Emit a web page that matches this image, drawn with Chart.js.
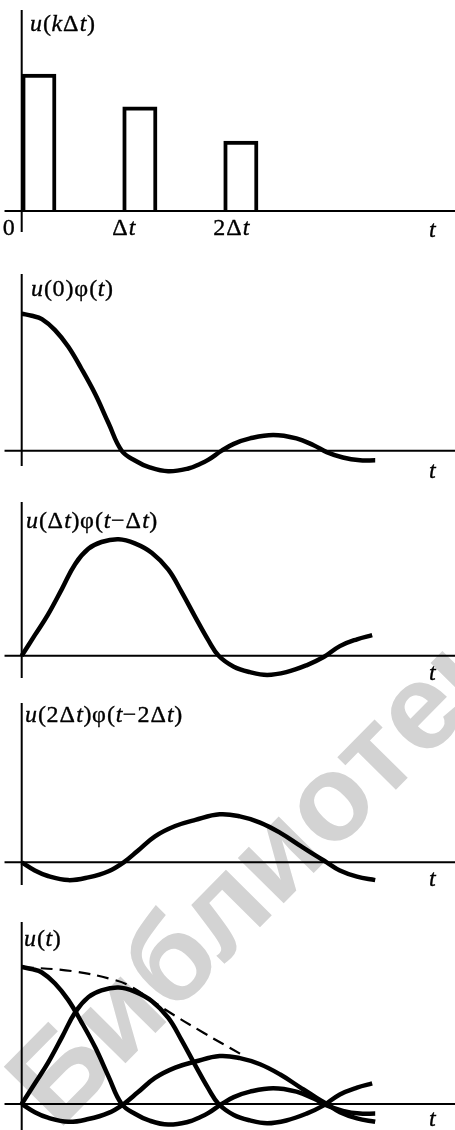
<!DOCTYPE html>
<html>
<head>
<meta charset="utf-8">
<script src="https://cdn.jsdelivr.net/npm/chart.js@4.4.1/dist/chart.umd.min.js"></script>
<style>
  html, body { margin: 0; padding: 0; background: #fff; }
  body { width: 455px; height: 1130px; position: relative; overflow: hidden; }
  .panel { position: absolute; left: 0; width: 455px; z-index: 1; }
  #stamp { position: absolute; left: 0; top: 0; z-index: 0; }
</style>
</head>
<body>
<canvas id="stamp" width="455" height="1130"></canvas>
<div class="panel" style="top:0;height:250px"><canvas id="p1"></canvas></div>
<div class="panel" style="top:250px;height:230px"><canvas id="p2"></canvas></div>
<div class="panel" style="top:480px;height:210px"><canvas id="p3"></canvas></div>
<div class="panel" style="top:690px;height:210px"><canvas id="p4"></canvas></div>
<div class="panel" style="top:900px;height:230px"><canvas id="p5"></canvas></div>
<script>
// ---- входной сигнал: отсчёты u(kΔt) ----
const sampleK = [0, 1, 2];
const sampleU = [1.0, 0.76, 0.51];
const tickText = ["0", "Δt", "2Δt"];

// ---- u(0)φ(t) ----
const resp0T = [0, 0.1, 0.2, 0.33, 0.46, 0.59, 0.73, 0.86, 0.99, 1.13, 1.26, 1.45, 1.65,
  1.77, 1.85, 1.98, 2.1, 2.26, 2.49, 2.72, 2.89, 3.02, 3.18, 3.35, 3.5];
const resp0V = [1.0, 0.985, 0.96, 0.88, 0.76, 0.6, 0.41, 0.2, 0, -0.075, -0.12, -0.15, -0.13,
  -0.095, -0.065, 0, 0.05, 0.09, 0.115, 0.09, 0.04, -0.01, -0.05, -0.07, -0.07];

// ---- u(Δt)φ(t−Δt) ----
const resp1T = [0, 0.13, 0.26, 0.4, 0.53, 0.66, 0.79, 0.96, 1.12, 1.29, 1.45, 1.58, 1.72,
  1.85, 1.95, 2.1, 2.26, 2.43, 2.62, 2.82, 2.99, 3.15, 3.32, 3.47];
const resp1V = [0, 0.15, 0.3, 0.49, 0.67, 0.78, 0.83, 0.85, 0.82, 0.75, 0.63, 0.47, 0.28,
  0.11, 0, -0.08, -0.12, -0.14, -0.12, -0.07, -0.01, 0.07, 0.12, 0.15];

// ---- u(2Δt)φ(t−2Δt) ----
const resp2T = [0, 0.13, 0.26, 0.46, 0.66, 0.86, 1.01, 1.15, 1.32, 1.52, 1.72, 1.96, 2.16,
  2.36, 2.56, 2.76, 2.92, 3.02, 3.15, 3.32, 3.5];
const resp2V = [0, -0.06, -0.1, -0.13, -0.11, -0.065, 0, 0.085, 0.19, 0.265, 0.31, 0.35, 0.335,
  0.29, 0.215, 0.12, 0.045, 0, -0.06, -0.105, -0.13];

// ---- огибающая (штриховая) ----
const envT = [0, 0.5, 0.92, 1.1, 1.42, 1.8, 2.18];
const envV = [1.0, 0.97, 0.905, 0.85, 0.69, 0.52, 0.36];

// масштаб: пикселей на Δt и на единицу амплитуды
const PX_PER_DT = 101;
const PX_PER_UNIT = 137;
const Y_AXIS_X = 21.7;
const PULSE_DT = 0.34;
const X_AXIS_FROM = -0.17;
const ITALIC = "ukt";
const SERIF = '"Liberation Serif", "DejaVu Serif", serif';
const FONT_SIZE = 24;
const SPREAD = 1.08;

function xy(ts, vs) {
  return ts.map((t, i) => ({ x: t, y: vs[i] }));
}

function curve(ts, vs, extra) {
  return Object.assign({
    type: "line",
    data: xy(ts, vs),
    borderColor: "#000",
    borderWidth: 4.5,
    pointRadius: 0,
    fill: false,
    tension: 0.4,
  }, extra || {});
}

function setFont(ctx, ch) {
  ctx.font = (ITALIC.includes(ch) ? "italic " : "") + FONT_SIZE + "px " + SERIF;
}

// формула: u, k, t курсивом, остальное прямым
function mathText(ctx, str, x, y) {
  let cx = x;
  ctx.lineWidth = 0.35;
  for (const ch of str) {
    setFont(ctx, ch);
    ctx.fillText(ch, cx, y);
    ctx.strokeText(ch, cx, y);
    cx += ctx.measureText(ch).width * SPREAD;
  }
  return cx - x;
}

function mathWidth(ctx, str) {
  let w = 0;
  for (const ch of str) {
    setFont(ctx, ch);
    w += ctx.measureText(ch).width * SPREAD;
  }
  return w;
}

// оси, подписи осей и отметки Δt
const decor = {
  id: "decor",
  afterDatasetsDraw(chart, args, o) {
    const { ctx } = chart;
    const xs = chart.scales.x, ys = chart.scales.y;
    const x0 = xs.getPixelForValue(0), y0 = ys.getPixelForValue(0);
    ctx.save();
    ctx.strokeStyle = "#000";
    ctx.lineWidth = 2;
    ctx.beginPath();
    ctx.moveTo(x0, o.axisTop);
    ctx.lineTo(x0, o.axisBottom);
    ctx.moveTo(xs.getPixelForValue(X_AXIS_FROM), y0);
    ctx.lineTo(chart.width, y0);
    ctx.stroke();

    ctx.fillStyle = "#000";
    ctx.textBaseline = "alphabetic";
    ctx.textAlign = "left";
    mathText(ctx, o.yLabel, o.yLabelX, o.yLabelY);
    mathText(ctx, "t", 429, o.tLabelY);

    if (o.ticks) {
      sampleK.forEach((k, i) => {
        const px = xs.getPixelForValue(k);
        const str = tickText[i];
        const lx = k === 0 ? px - 6 - mathWidth(ctx, str) : px - 10.5;
        mathText(ctx, str, lx, o.tLabelY - 2);
      });
    }
    ctx.restore();
  },
};

function makeChart(id, type, datasets, p) {
  return new Chart(document.getElementById(id), {
    type,
    data: { datasets },
    options: {
      responsive: true,
      maintainAspectRatio: false,
      animation: false,
      events: [],
      layout: { padding: 0 },
      plugins: {
        legend: { display: false },
        tooltip: { enabled: false },
        decor: p,
      },
      scales: {
        x: {
          type: "linear",
          display: false,
          offset: false,
          min: -Y_AXIS_X / PX_PER_DT,
          max: (455 - Y_AXIS_X) / PX_PER_DT,
        },
        y: {
          type: "linear",
          display: false,
          min: -(p.height - p.zero) / PX_PER_UNIT,
          max: p.zero / PX_PER_UNIT,
        },
      },
    },
    plugins: [decor],
  });
}

// библиотечный штамп: серая надпись по диагонали за графиками
function drawStamp() {
  const ctx = document.getElementById("stamp").getContext("2d");
  const text = "Библиотека";
  const sans = '"Liberation Sans", "DejaVu Sans", sans-serif';
  const from = { x: 60, y: 1072 };   // центр «Б»
  const to = { x: 418, y: 710 };     // центр «е»
  ctx.font = "bold 100px " + sans;
  const wB = ctx.measureText("Б").width;
  const wE = ctx.measureText("е").width;
  const wPre = ctx.measureText("Библиоте").width;
  const span = wPre - wB / 2 - wE / 2;
  const dist = Math.hypot(to.x - from.x, to.y - from.y);
  const size = 100 * dist / span;
  const ang = Math.atan2(to.y - from.y, to.x - from.x);
  ctx.font = "bold " + size + "px " + sans;
  ctx.fillStyle = "#d3d3d3";
  ctx.translate(from.x, from.y);
  ctx.rotate(ang);
  ctx.fillText(text, -wB * size / 200, 0.33 * size);
}

drawStamp();

// 1) прямоугольные импульсы u(kΔt)
makeChart("p1", "bar", [{
  type: "bar",
  data: sampleK.map((k, i) => ({ x: k + PULSE_DT / 2, y: sampleU[i] })),
  backgroundColor: "#fff",
  borderColor: "#000",
  borderWidth: 4,
  borderSkipped: "start",
  barThickness: PULSE_DT * PX_PER_DT,
}], { height: 250, zero: 211, axisTop: 10, axisBottom: 232,
  yLabel: "u(kΔt)", yLabelX: 30, yLabelY: 30.5, tLabelY: 237, ticks: true });

// 2) реакция на первый импульс
makeChart("p2", "line", [curve(resp0T, resp0V)],
  { height: 230, zero: 200.7, axisTop: 24, axisBottom: 216,
    yLabel: "u(0)φ(t)", yLabelX: 31, yLabelY: 45.5, tLabelY: 228 });

// 3) реакция на второй импульс
makeChart("p3", "line", [curve(resp1T, resp1V)],
  { height: 210, zero: 175.7, axisTop: 22, axisBottom: 198,
    yLabel: "u(Δt)φ(t−Δt)", yLabelX: 26, yLabelY: 48, tLabelY: 200 });

// 4) реакция на третий импульс
makeChart("p4", "line", [curve(resp2T, resp2V)],
  { height: 210, zero: 172.3, axisTop: 13, axisBottom: 195,
    yLabel: "u(2Δt)φ(t−2Δt)", yLabelX: 25, yLabelY: 31.5, tLabelY: 196 });

// 5) сумма: все реакции и огибающая
makeChart("p5", "line", [
  curve(resp0T, resp0V),
  curve(resp1T, resp1V),
  curve(resp2T, resp2V),
  curve(envT, envV, { borderWidth: 2.2, borderDash: [12, 7] }),
], { height: 230, zero: 204, axisTop: 22, axisBottom: 230,
  yLabel: "u(t)", yLabelX: 24, yLabelY: 45.5, tLabelY: 226 });
</script>
</body>
</html>
